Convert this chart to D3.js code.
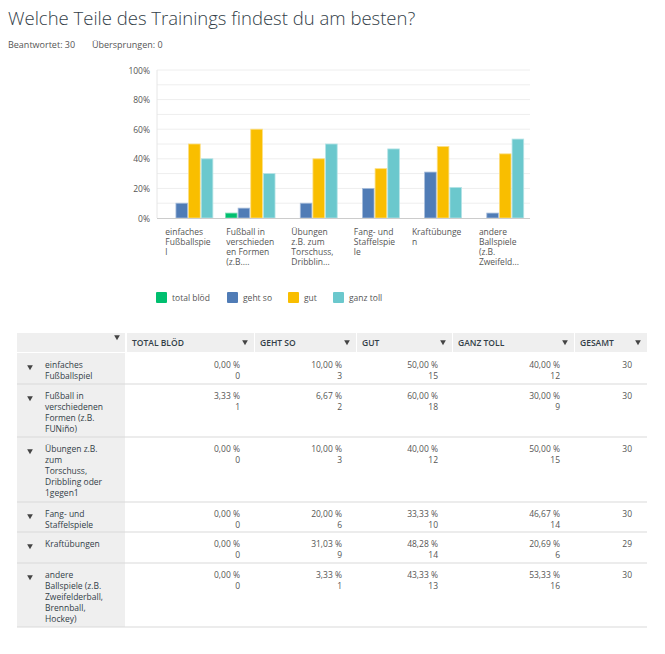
<!DOCTYPE html>
<html>
<head>
<meta charset="utf-8">
<script src="https://cdn.jsdelivr.net/npm/d3@7"></script>
<style>
  body { margin: 0; background: #fff; }
  text { font-family: "Open Sans", "Noto Sans", sans-serif; }
</style>
</head>
<body>
<div id="chart"></div>
<script>
const width = 665;
const height = 654;

// Daten
const chartLabels = [
  ["einfaches", "Fußballspie", "l"],
  ["Fußball in", "verschieden", "en Formen", "(z.B...."],
  ["Übungen", "z.B. zum", "Torschuss,", "Dribblin..."],
  ["Fang- und", "Staffelspie", "le"],
  ["Kraftübunge", "n"],
  ["andere", "Ballspiele", "(z.B.", "Zweifeld..."]
];
const rowLabels = [
  ["einfaches", "Fußballspiel"],
  ["Fußball in", "verschiedenen", "Formen (z.B.", "FUNiño)"],
  ["Übungen z.B.", "zum", "Torschuss,", "Dribbling oder", "1gegen1"],
  ["Fang- und", "Staffelspiele"],
  ["Kraftübungen"],
  ["andere", "Ballspiele (z.B.", "Zweifelderball,", "Brennball,", "Hockey)"]
];
const seriesNames = ["total blöd", "geht so", "gut", "ganz toll"];
const headerNames = ["TOTAL BLÖD", "GEHT SO", "GUT", "GANZ TOLL", "GESAMT"];
const totalBloed = [0, 3.33, 0, 0, 0, 0];
const gehtSo = [10, 6.67, 10, 20, 31.03, 3.33];
const gut = [50, 60, 40, 33.33, 48.28, 43.33];
const ganzToll = [40, 30, 50, 46.67, 20.69, 53.33];
const countTotalBloed = [0, 1, 0, 0, 0, 0];
const countGehtSo = [3, 2, 3, 6, 9, 1];
const countGut = [15, 18, 12, 10, 14, 13];
const countGanzToll = [12, 9, 15, 14, 6, 16];
const gesamt = [30, 30, 30, 30, 29, 30];
const yTicks = [0, 20, 40, 60, 80, 100];

const colors = ["#00bf6f", "#507cb6", "#f9be00", "#6bc8cd"];
const strokes = ["#7fdfb7", "#a7bddb", "#fcde80", "#b5e3e6"];

const values = [totalBloed, gehtSo, gut, ganzToll];
const counts = [countTotalBloed, countGehtSo, countGut, countGanzToll];
const fmt = v => v.toFixed(2).replace(".", ",") + " %";

const svg = d3.select("#chart").append("svg")
  .attr("width", width)
  .attr("height", height);

// Titel
svg.append("text")
  .attr("x", 8).attr("y", 25)
  .attr("fill", "#333e48")
  .attr("font-size", 18.5)
  .attr("font-weight", 300)
  .text("Welche Teile des Trainings findest du am besten?");
svg.append("text")
  .attr("x", 8).attr("y", 48)
  .attr("fill", "#555")
  .attr("font-size", 9)
  .text("Beantwortet: 30");
svg.append("text")
  .attr("x", 92).attr("y", 48)
  .attr("fill", "#555")
  .attr("font-size", 9)
  .text("Übersprungen: 0");

// Skalen
const x0 = d3.scaleBand().domain(d3.range(6)).range([157, 530]);
const x1 = d3.scaleBand().domain(d3.range(4)).range([6.3, x0.bandwidth() - 6.3]).paddingInner(0.08);
const y = d3.scaleLinear().domain([0, 100]).range([218, 70]);

// Gitter
svg.append("g")
  .selectAll("line")
  .data(d3.range(10, 101, 10))
  .join("line")
  .attr("x1", 157).attr("x2", 530)
  .attr("y1", d => y(d)).attr("y2", d => y(d))
  .attr("stroke", "#eeeeee");

svg.append("line")
  .attr("x1", 157).attr("x2", 157)
  .attr("y1", y(100)).attr("y2", y(0))
  .attr("stroke", "#e6e6e6");

svg.append("g")
  .selectAll("text")
  .data(yTicks)
  .join("text")
  .attr("x", 150).attr("y", d => y(d) + 3.5)
  .attr("text-anchor", "end")
  .attr("font-size", 8.5)
  .attr("fill", "#555")
  .text(d => d + "%");

// Balken
const groups = svg.append("g")
  .selectAll("g")
  .data(d3.range(6))
  .join("g")
  .attr("transform", i => `translate(${x0(i)},0)`);

groups.selectAll("rect")
  .data(i => values.map((s, k) => ({ k, v: s[i] })).filter(d => d.v > 0))
  .join("rect")
  .attr("x", d => x1(d.k))
  .attr("width", x1.bandwidth())
  .attr("y", d => y(d.v))
  .attr("height", d => y(0) - y(d.v))
  .attr("fill", d => colors[d.k])
  .attr("stroke", d => strokes[d.k])
  .attr("stroke-width", 0.8);

svg.append("line")
  .attr("x1", 157).attr("x2", 530)
  .attr("y1", y(0) + 0.5).attr("y2", y(0) + 0.5)
  .attr("stroke", "#cccccc");

// x-Beschriftung
groups.each(function(i) {
  const g = d3.select(this);
  const t = g.append("text")
    .attr("font-size", 8.5)
    .attr("fill", "#555");
  t.selectAll("tspan")
    .data(chartLabels[i])
    .join("tspan")
    .attr("x", 0)
    .attr("y", (d, j) => 235 + j * 10)
    .text(d => d);
  const w = t.node().getBBox().width;
  t.attr("transform", `translate(${(x0.bandwidth() - w) / 2},0)`);
});

// Legende
const legendX = [156, 227, 288, 333];
const legend = svg.append("g")
  .selectAll("g")
  .data(seriesNames)
  .join("g")
  .attr("transform", (d, i) => `translate(${legendX[i]},292)`);
legend.append("rect")
  .attr("width", 11).attr("height", 11).attr("rx", 1)
  .attr("fill", (d, i) => colors[i]);
legend.append("text")
  .attr("x", 16).attr("y", 9)
  .attr("font-size", 8.5)
  .attr("fill", "#555")
  .text(d => d);

// Tabelle
const colEdges = [17, 126, 254, 356, 452, 574, 647];
const rowEdges = [353, 384, 437, 502, 532, 563, 627];
const tbl = svg.append("g");

// Kopfzeile
tbl.selectAll("rect.head")
  .data(d3.range(6))
  .join("rect")
  .attr("class", "head")
  .attr("x", c => colEdges[c] + (c > 0 ? 1 : 0))
  .attr("y", 333)
  .attr("width", c => colEdges[c + 1] - colEdges[c] - (c > 0 ? 1 : 1))
  .attr("height", 19)
  .attr("fill", "#efefef");

tbl.append("rect")
  .attr("x", 17).attr("y", 353)
  .attr("width", 108).attr("height", 627 - 353)
  .attr("fill", "#efefef");

tbl.selectAll("text.head")
  .data(headerNames)
  .join("text")
  .attr("class", "head")
  .attr("x", (d, c) => colEdges[c + 1] + 6)
  .attr("y", 346)
  .attr("font-size", 8.5)
  .attr("font-weight", 600)
  .attr("fill", "#333e48")
  .text(d => d);

const tri = d3.symbol().type(d3.symbolTriangle).size(14);
tbl.selectAll("path.head")
  .data(d3.range(6))
  .join("path")
  .attr("class", "head")
  .attr("d", tri)
  .attr("transform", c => `translate(${colEdges[c + 1] - 9},${c === 0 ? 337 : 342}) rotate(180)`)
  .attr("fill", "#444");

// Zeilen
tbl.selectAll("line.row")
  .data(rowEdges.slice(1))
  .join("line")
  .attr("class", "row")
  .attr("x1", 17).attr("x2", 647)
  .attr("y1", d => d).attr("y2", d => d)
  .attr("stroke", "#d9d9d9")
  .attr("stroke-width", 1.2);

const rows = tbl.selectAll("g.row")
  .data(d3.range(6))
  .join("g")
  .attr("class", "row")
  .attr("transform", r => `translate(0,${rowEdges[r]})`);

rows.append("path")
  .attr("d", tri)
  .attr("transform", "translate(30,14) rotate(180)")
  .attr("fill", "#444");

rows.append("text")
  .attr("font-size", 8.5)
  .attr("fill", "#333e48")
  .selectAll("tspan")
  .data(r => rowLabels[r])
  .join("tspan")
  .attr("x", 45)
  .attr("y", (d, j) => 15 + j * 11)
  .text(d => d);

rows.each(function(r) {
  const g = d3.select(this);
  values.forEach((s, k) => {
    const right = colEdges[k + 2] - 14;
    g.append("text")
      .attr("x", right).attr("y", 15)
      .attr("text-anchor", "end")
      .attr("font-size", 8.5)
      .attr("fill", "#555")
      .text(fmt(s[r]));
    g.append("text")
      .attr("x", right).attr("y", 26)
      .attr("text-anchor", "end")
      .attr("font-size", 8.5)
      .attr("fill", "#555")
      .text(counts[k][r]);
  });
  g.append("text")
    .attr("x", colEdges[6] - 15).attr("y", 15)
    .attr("text-anchor", "end")
    .attr("font-size", 8.5)
    .attr("fill", "#555")
    .text(gesamt[r]);
});
</script>
</body>
</html>
